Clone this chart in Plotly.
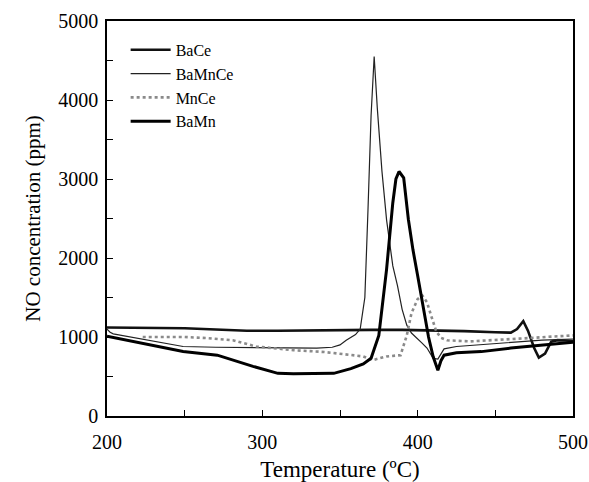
import plotly.graph_objects as go

# Temperature (°C) / NO concentration (ppm) for each catalyst
bace_t = [200, 220, 250, 270, 290, 310, 330, 350, 370, 390, 410, 430, 450, 460, 464, 468, 471, 475, 478, 482, 486, 490, 495, 500]
bace_y = [1120, 1115, 1110, 1095, 1080, 1080, 1085, 1085, 1090, 1090, 1085, 1075, 1060, 1055, 1100, 1200, 1080, 860, 740, 790, 940, 960, 955, 950]

bamnce_t = [200, 202, 204, 220, 249, 270, 299, 320, 335, 345, 350, 354, 357, 360, 363, 366, 368, 370, 372, 374, 377, 380, 384, 387, 390, 393, 396, 400, 403, 406, 408, 410, 413, 417, 425, 440, 460, 480, 500]
bamnce_y = [1100, 1060, 1040, 980, 880, 870, 867, 860, 860, 870, 900, 960, 990, 1030, 1100, 1500, 2600, 3800, 4550, 3900, 3100, 2480, 1900, 1650, 1350, 1150, 1050, 980, 920, 860, 800, 730, 720, 850, 880, 900, 930, 960, 975]

mnce_t = [223, 240, 250, 265, 281, 296, 310, 320, 340, 356, 365, 371, 380, 389, 393, 396, 400, 403, 406, 409, 412, 415, 419, 434, 450, 462, 475, 486, 500]
mnce_y = [1000, 1000, 1000, 985, 958, 880, 850, 833, 810, 770, 754, 707, 754, 770, 1021, 1300, 1480, 1524, 1440, 1250, 1070, 990, 958, 945, 960, 980, 990, 1005, 1020]

bamn_t = [200, 220, 249, 271, 281, 294, 310, 320, 346, 357, 365, 370, 375, 378, 380, 384, 386, 388, 391, 394, 397, 400, 404, 407, 410, 413, 415, 417, 425, 441, 460, 480, 500]
bamn_y = [1010, 930, 816, 770, 707, 628, 540, 535, 540, 600, 660, 730, 1020, 1500, 1860, 2700, 3000, 3095, 3015, 2490, 2100, 1776, 1357, 1000, 750, 580, 700, 770, 800, 815, 860, 900, 935]

fig = go.Figure()
fig.add_trace(go.Scatter(x=bace_t, y=bace_y, name="BaCe", mode="lines",
                         line=dict(color="#111111", width=2.6)))
fig.add_trace(go.Scatter(x=bamnce_t, y=bamnce_y, name="BaMnCe", mode="lines",
                         line=dict(color="#222222", width=1.2)))
fig.add_trace(go.Scatter(x=mnce_t, y=mnce_y, name="MnCe", mode="lines",
                         line=dict(color="#8a8a8a", width=2.6, dash="dot")))
fig.add_trace(go.Scatter(x=bamn_t, y=bamn_y, name="BaMn", mode="lines",
                         line=dict(color="#000000", width=3)))

serif = "Liberation Serif, Times New Roman, serif"
tick_font = dict(family=serif, size=20, color="black")

fig.update_layout(
    width=589, height=482,
    margin=dict(l=107, r=16, t=21, b=66),
    paper_bgcolor="white", plot_bgcolor="white",
    font=dict(family=serif, color="black"),
    showlegend=True,
    legend=dict(x=0.04, y=0.97, xanchor="left", yanchor="top",
                bgcolor="rgba(0,0,0,0)", tracegroupgap=0, itemwidth=40,
                font=dict(family=serif, size=16, color="black")),
    xaxis=dict(range=[200, 500], dtick=100, tick0=200, showgrid=False, zeroline=False,
               automargin=False,
               showline=True, linecolor="black", linewidth=1.5, mirror=True,
               ticks="inside", ticklen=6, tickcolor="black", tickfont=tick_font,
               ticklabelstandoff=7,
               minor=dict(dtick=50, ticks="inside", ticklen=6, tickcolor="black"),
               title=dict(text="Temperature (ºC)", font=dict(family=serif, size=23, color="black"),
                          standoff=14)),
    yaxis=dict(range=[0, 5000], dtick=1000, showgrid=False, zeroline=False,
               automargin=False,
               showline=True, linecolor="black", linewidth=1.5, mirror=True,
               ticks="inside", ticklen=6, tickcolor="black", tickfont=tick_font,
               ticklabelstandoff=3,
               minor=dict(dtick=500, ticks="inside", ticklen=6, tickcolor="black"),
               title=dict(text="NO concentration (ppm)", font=dict(family=serif, size=21, color="black"),
                          standoff=12)),
)

fig.write_html("out.html")
